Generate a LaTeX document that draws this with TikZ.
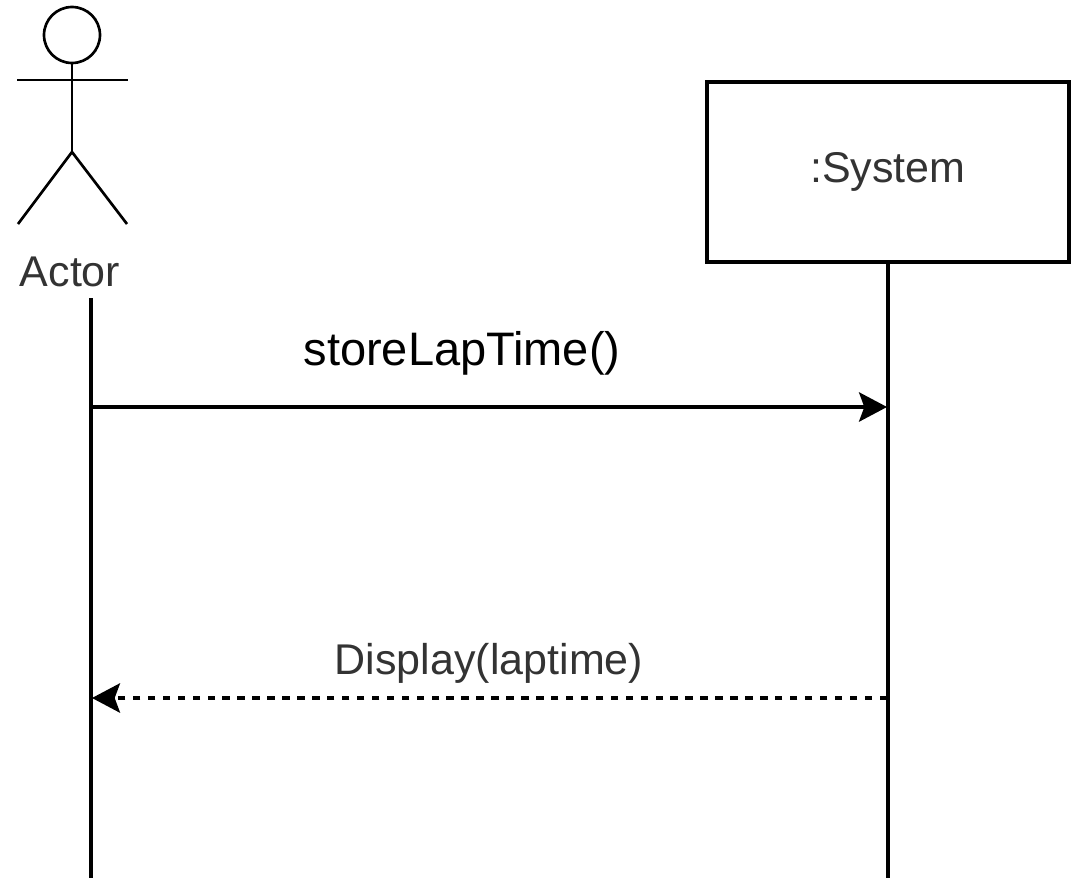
\documentclass[tikz,border=0pt]{standalone}
\usepackage{fontspec}
\setmainfont{Liberation Sans}
\usetikzlibrary{arrows.meta}
\begin{document}
\begin{tikzpicture}[x=0.75pt,y=-0.75pt,
  ln/.style={line width=2.5pt,black},
  thinln/.style={line width=2pt,black},
  lbl/.style={font=\fontsize{32.25}{36}\selectfont,text=black!80,inner sep=0pt},
  msg/.style={ln,-{Stealth[length=21pt,width=22pt,inset=4pt]}},
  ret/.style={ln,dash pattern=on 5.6pt off 5.6pt,-{Stealth[length=21pt,width=22pt,inset=4pt]}},
  objbox/.style={draw,line width=2.5pt,minimum width=271.5pt,minimum height=135pt,inner sep=0pt,font=\fontsize{32.25}{36}\selectfont,text=black!80}]
\useasboundingbox (0,0) rectangle (1073,878);
% actor figure
\draw[thinln] (72,35) circle[radius=28*0.75pt];
\draw[thinln] (17,80) -- (128,80);
\draw[thinln] (72,63) -- (72,152);
\draw[thinln] (18,224) -- (72,152) -- (127,224);
\node[lbl] (actor) at (70,272) {Actor};
% system object
\node[objbox] (sys) at (888,172) {\raisebox{-4pt}{:System}};
% lifelines
\coordinate (aTop) at (91,298);
\coordinate (aBot) at (91,878);
\coordinate (sBot) at (888,878);
\draw[ln] (aTop) -- (aBot);
\draw[ln] (sys.south) -- (sBot);
% messages
\coordinate (m1s) at (91,407);
\coordinate (m1e) at (887,407);
\draw[msg] (m1s) -- (m1e);
\node[inner sep=0pt,font=\fontsize{35.25}{40}\selectfont] (m1l) at (462,353) {storeLapTime()};
\coordinate (m2s) at (887,698);
\coordinate (m2e) at (92,698);
\draw[ret] (m2s) -- (m2e);
\node[lbl] (m2l) at (489,663) {Display(laptime)};
\end{tikzpicture}
\end{document}
